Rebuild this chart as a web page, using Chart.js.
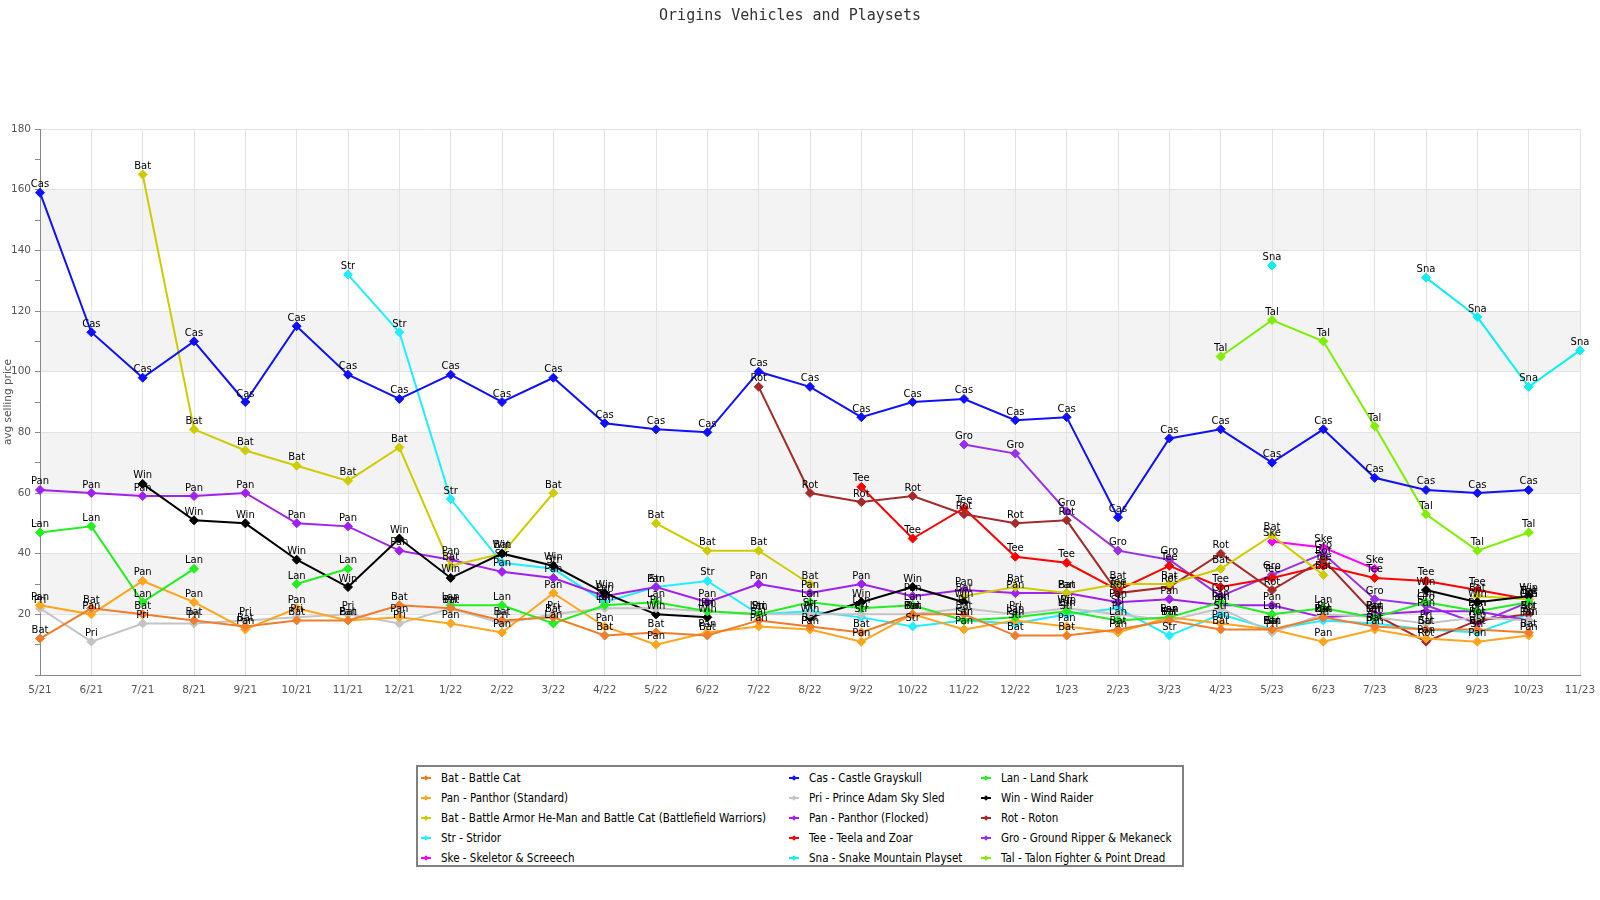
<!DOCTYPE html>
<html>
<head>
<meta charset="utf-8">
<title>Origins Vehicles and Playsets</title>
<script src="https://cdn.jsdelivr.net/npm/chart.js@4.4.1/dist/chart.umd.min.js"></script>
<style>
  html, body { margin: 0; padding: 0; background: #fff; }
  #wrap { position: relative; width: 1600px; height: 900px; }
  #chart { position: absolute; left: 0; top: 0; }
  #legend {
    position: absolute; left: 416px; top: 765px; width: 768px; height: 102px;
    box-sizing: border-box; border: 2px solid #808080; background: #fff;
    font: 11.5px "DejaVu Sans Condensed", "DejaVu Sans", sans-serif; color: #000;
  }
  .item { position: absolute; white-space: nowrap; line-height: 14px; }
  .mark { position: absolute; width: 10px; height: 2px; }
  .mark i { position: absolute; left: 3px; top: -1px; width: 4px; height: 4px; transform: rotate(45deg); }
</style>
</head>
<body>
<div id="wrap">
  <canvas id="chart" width="1600" height="900"></canvas>
  <div id="legend"></div>
</div>
<script>
'use strict'

const months = ['5/21','6/21','7/21','8/21','9/21','10/21','11/21','12/21',
  '1/22','2/22','3/22','4/22','5/22','6/22','7/22','8/22','9/22','10/22','11/22','12/22',
  '1/23','2/23','3/23','4/23','5/23','6/23','7/23','8/23','9/23','10/23','11/23']

// one value per month, null = no sales that month
const battleCat  = [12,22,20,18,16,18,18,23,22,18,19,13,14,13,18,16,14,20,20,13,13,15,18,15,15,19,16,15,15,14,null]
const castle     = [159,113,98,110,90,115,99,91,99,90,98,83,81,80,100,95,85,90,91,84,85,52,78,81,70,81,65,61,60,61,null]
const landShark  = [47,49,24,35,null,30,35,null,23,23,17,23,24,21,20,24,22,23,18,19,21,18,19,24,20,22,19,24,21,24,null]
const panthorStd = [23,20,31,24,15,22,18,19,17,14,27,16,10,14,16,15,11,20,15,18,16,14,19,17,15,11,15,12,11,13,null]
const skySled    = [22,11,17,17,18,19,20,17,22,17,20,22,22,21,20,20,20,20,22,20,22,20,18,22,14,20,19,17,19,18,null]
const windRaider = [null,null,63,51,50,38,29,45,32,40,36,27,20,19,null,19,24,29,24,null,22,null,null,null,null,null,null,28,24,26,null]
const battleArmor= [null,null,165,81,74,69,64,75,36,40,60,null,50,41,41,30,null,null,26,29,27,30,30,35,46,33,null,null,26,25,null]
const panthorFlk = [61,60,59,59,60,50,49,41,38,34,32,26,29,24,30,27,30,26,28,27,27,24,25,23,23,19,20,21,21,18,null]
const roton      = [null,null,null,null,null,null,null,null,null,null,null,null,null,null,95,60,57,59,53,50,51,27,29,40,28,38,20,11,18,20,null]
const stridor    = [null,null,null,null,null,null,132,113,58,37,35,24,29,31,20,21,19,16,18,17,20,22,13,20,15,18,17,15,14,20,null]
const teela      = [null,null,null,null,null,null,null,null,null,null,null,null,null,null,null,null,62,45,55,39,37,28,36,29,32,36,32,31,28,25,null]
const groundRip  = [null,null,null,null,null,null,null,null,null,null,null,null,null,null,null,null,null,null,76,73,54,41,38,26,33,40,25,23,17,24,null]
const skeletor   = [null,null,null,null,null,null,null,null,null,null,null,null,null,null,null,null,null,null,null,null,null,null,null,null,44,42,35,null,null,null,null]
const snakeMtn   = [null,null,null,null,null,null,null,null,null,null,null,null,null,null,null,null,null,null,null,null,null,null,null,null,135,null,null,131,118,95,107]
const talon      = [null,null,null,null,null,null,null,null,null,null,null,null,null,null,null,null,null,null,null,null,null,null,null,105,117,110,82,53,41,47,null]

const seriesNames = [
  'Bat - Battle Cat', 'Cas - Castle Grayskull', 'Lan - Land Shark',
  'Pan - Panthor (Standard)', 'Pri - Prince Adam Sky Sled', 'Win - Wind Raider',
  'Bat - Battle Armor He-Man and Battle Cat (Battlefield Warriors)', 'Pan - Panthor (Flocked)', 'Rot - Roton',
  'Str - Stridor', 'Tee - Teela and Zoar', 'Gro - Ground Ripper & Mekaneck',
  'Ske - Skeletor & Screeech', 'Sna - Snake Mountain Playset', 'Tal - Talon Fighter & Point Dread'
]
const seriesValues = [battleCat, castle, landShark, panthorStd, skySled, windRaider,
  battleArmor, panthorFlk, roton, stridor, teela, groundRip, skeletor, snakeMtn, talon]
const seriesColors = ['#f07d2b', '#1010ff', '#22ee22', '#ffa520', '#c4c4c4', '#000000',
  '#cccc00', '#a020f0', '#a52a2a', '#22eeff', '#ff0000', '#9932e6', '#ff00ff', '#11eeee', '#80ee00']

const abbr = name => name.split(' - ')[0]

// grey bands behind the plot
const bands = {
  id: 'bands',
  beforeDraw(chart) {
    const { ctx, chartArea: a, scales: { y } } = chart
    ctx.save()
    ctx.fillStyle = '#f3f3f3'
    for (let lo = 20; lo < 180; lo += 40) {
      const top = y.getPixelForValue(lo + 20), bot = y.getPixelForValue(lo)
      ctx.fillRect(a.left, top, a.right - a.left, bot - top)
    }
    ctx.restore()
  }
}

// short name over every point
const pointTags = {
  id: 'pointTags',
  afterDatasetsDraw(chart) {
    const ctx = chart.ctx
    ctx.save()
    ctx.font = '10px "DejaVu Sans"'
    ctx.fillStyle = '#000'
    ctx.textAlign = 'center'
    ctx.textBaseline = 'alphabetic'
    chart.data.datasets.forEach((ds, i) => {
      const tag = abbr(ds.label)
      chart.getDatasetMeta(i).data.forEach((pt, j) => {
        if (ds.data[j] == null) return
        ctx.fillText(tag, pt.x, pt.y - 5.5)
      })
    })
    ctx.restore()
  }
}

new Chart(document.getElementById('chart'), {
  type: 'line',
  data: {
    labels: months,
    datasets: seriesNames.map((name, i) => ({
      label: name,
      data: seriesValues[i],
      borderColor: seriesColors[i],
      backgroundColor: seriesColors[i],
      borderWidth: 2,
      pointStyle: 'rectRot',
      pointRadius: 4.5,
      pointBorderWidth: 1,
      tension: 0,
      spanGaps: false
    }))
  },
  options: {
    responsive: false,
    animation: false,
    layout: { autoPadding: false, padding: { top: 0, left: 0, right: 20, bottom: 200 } },
    plugins: {
      legend: { display: false },
      tooltip: { enabled: false },
      title: {
        display: true,
        text: 'Origins Vehicles and Playsets',
        color: '#333',
        font: { family: '"DejaVu Sans Mono", monospace', size: 15, weight: 'normal' },
        padding: { top: 7, bottom: 104 }
      }
    },
    scales: {
      x: {
        offset: false,
        grid: { color: '#e2e2e2', drawTicks: false },
        border: { color: '#888' },
        ticks: { color: '#555', font: { family: '"DejaVu Sans"', size: 10.5 }, padding: 9, maxRotation: 0, autoSkip: false },
        afterFit(scale) {
          scale.height = 25
          scale.paddingLeft = 0
          scale.paddingRight = 0
        }
      },
      y: {
        min: 0,
        max: 180,
        grid: {
          color: c => (c.tick && c.tick.value % 20 === 0) ? '#e2e2e2' : 'rgba(0,0,0,0)',
          tickColor: '#888',
          tickLength: 5
        },
        border: { color: '#888' },
        ticks: {
          stepSize: 10,
          color: '#555',
          font: { family: '"DejaVu Sans"', size: 10.5 },
          padding: 4,
          callback: v => (v % 20 === 0 && v > 0) ? v : ''
        },
        title: {
          display: true,
          text: 'avg selling price',
          color: '#555',
          font: { family: '"DejaVu Sans"', size: 10.5 },
          padding: { top: 2, bottom: 0 }
        },
        afterFit(scale) { scale.width = 40 }
      }
    }
  },
  plugins: [bands, pointTags]
})

// legend box under the chart, three columns
const legend = document.getElementById('legend')
const colMark = [3, 371, 563]
const colText = [23, 391, 583]
seriesNames.forEach((name, i) => {
  const row = Math.floor(i / 3), col = i % 3
  const cy = 11 + row * 20
  const mark = document.createElement('span')
  mark.className = 'mark'
  mark.style.left = colMark[col] + 'px'
  mark.style.top = (cy - 1) + 'px'
  mark.style.background = seriesColors[i]
  const dot = document.createElement('i')
  dot.style.background = seriesColors[i]
  mark.appendChild(dot)
  const txt = document.createElement('span')
  txt.className = 'item'
  txt.style.left = colText[col] + 'px'
  txt.style.top = (cy - 7) + 'px'
  txt.textContent = name
  legend.appendChild(mark)
  legend.appendChild(txt)
})
</script>
</body>
</html>
